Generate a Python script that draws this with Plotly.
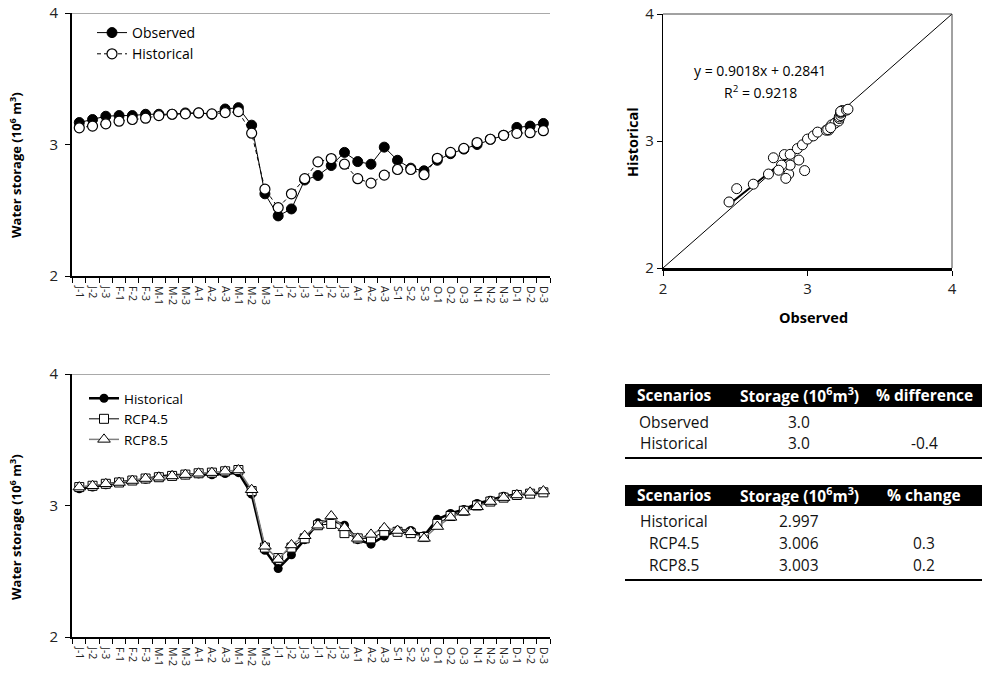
import plotly.graph_objects as go

W, H = 982, 683

# ---------------- data ----------------
periods = ["J-1", "J-2", "J-3", "F-1", "F-2", "F-3", "M-1", "M-2", "M-3",
           "A-1", "A-2", "A-3", "M-1", "M-2", "M-3", "J-1", "J-2", "J-3",
           "J-1", "J-2", "J-3", "A-1", "A-2", "A-3", "S-1", "S-2", "S-3",
           "O-1", "O-2", "O-3", "N-1", "N-2", "N-3", "D-1", "D-2", "D-3"]

observed = [3.167, 3.19, 3.215, 3.22, 3.22, 3.23, 3.23, 3.23, 3.24,
            3.24, 3.23, 3.27, 3.28, 3.147, 2.625, 2.457, 2.51, 2.73,
            2.764, 2.84, 2.94, 2.87, 2.85, 2.98, 2.88, 2.82, 2.80,
            2.88, 2.93, 2.965, 3.00, 3.04, 3.07, 3.13, 3.14, 3.16]

historical = [3.127, 3.14, 3.157, 3.177, 3.19, 3.20, 3.22, 3.23, 3.233,
              3.24, 3.233, 3.243, 3.25, 3.086, 2.66, 2.52, 2.625, 2.74,
              2.868, 2.893, 2.85, 2.74, 2.706, 2.767, 2.81, 2.81, 2.77,
              2.895, 2.94, 2.97, 3.015, 3.04, 3.07, 3.085, 3.09, 3.105]

rcp45 = [3.14, 3.15, 3.165, 3.175, 3.19, 3.205, 3.215, 3.225, 3.235,
         3.245, 3.25, 3.26, 3.27, 3.11, 2.68, 2.60, 2.68, 2.75,
         2.85, 2.86, 2.79, 2.75, 2.75, 2.80, 2.80, 2.79, 2.76,
         2.86, 2.92, 2.96, 3.00, 3.03, 3.06, 3.08, 3.09, 3.10]

rcp85 = [3.14, 3.15, 3.165, 3.175, 3.19, 3.205, 3.215, 3.225, 3.235,
         3.245, 3.25, 3.26, 3.27, 3.12, 2.69, 2.59, 2.70, 2.77,
         2.85, 2.92, 2.83, 2.75, 2.78, 2.83, 2.81, 2.80, 2.75,
         2.84, 2.91, 2.95, 2.99, 3.03, 3.06, 3.08, 3.10, 3.11]

trend_slope = 0.9018
trend_intercept = 0.2841
trend_r2 = 0.9218

t1_header = ["Scenarios", "Storage (10<sup>6</sup>m<sup>3</sup>)", "% difference"]
t1_scen = ["Observed", "Historical"]
t1_storage = [3.0, 3.0]
t1_diff = [None, -0.4]

t2_header = ["Scenarios", "Storage (10<sup>6</sup>m<sup>3</sup>)", "% change"]
t2_scen = ["Historical", "RCP4.5", "RCP8.5"]
t2_storage = [2.997, 3.006, 3.003]
t2_change = [None, 0.3, 0.2]

idx = list(range(len(periods)))

# ---------------- helpers ----------------
def px(x):
    return x / W

def py(y):
    return 1 - y / H

FONT = "Open Sans"

fig = go.Figure()

# top-left: observed vs historical
fig.add_trace(go.Scatter(
    x=idx, y=observed, name="Observed", mode="lines+markers",
    line=dict(color="black", width=1),
    marker=dict(symbol="circle", size=10, color="black", line=dict(color="black", width=1)),
    xaxis="x", yaxis="y", legend="legend"))
fig.add_trace(go.Scatter(
    x=idx, y=historical, name="Historical", mode="lines+markers",
    line=dict(color="black", width=1, dash="4px,3px"),
    marker=dict(symbol="circle", size=10, color="white", line=dict(color="black", width=1.2)),
    xaxis="x", yaxis="y", legend="legend"))

# bottom-left: scenarios
fig.add_trace(go.Scatter(
    x=idx, y=historical, name="Historical", mode="lines+markers",
    line=dict(color="black", width=2.5),
    marker=dict(symbol="circle", size=9, color="black"),
    xaxis="x2", yaxis="y2", legend="legend2"))
fig.add_trace(go.Scatter(
    x=idx, y=rcp45, name="RCP4.5", mode="lines+markers",
    line=dict(color="black", width=1),
    marker=dict(symbol="square", size=9, color="white", line=dict(color="black", width=1)),
    xaxis="x2", yaxis="y2", legend="legend2"))
fig.add_trace(go.Scatter(
    x=idx, y=rcp85, name="RCP8.5", mode="lines+markers",
    line=dict(color="#808080", width=1.5),
    marker=dict(symbol="triangle-up", size=11, color="white", line=dict(color="black", width=1)),
    xaxis="x2", yaxis="y2", legend="legend2"))

# scatter: observed vs historical
fig.add_trace(go.Scatter(
    x=[2, 4], y=[2, 4], mode="lines", line=dict(color="black", width=1),
    xaxis="x3", yaxis="y3", showlegend=False, hoverinfo="skip"))
xmin, xmax = min(observed), max(observed)
fig.add_trace(go.Scatter(
    x=[xmin, xmax], y=[trend_slope * xmin + trend_intercept, trend_slope * xmax + trend_intercept],
    mode="lines", line=dict(color="black", width=2),
    xaxis="x3", yaxis="y3", showlegend=False, hoverinfo="skip"))
fig.add_trace(go.Scatter(
    x=observed, y=historical, mode="markers",
    marker=dict(symbol="circle", size=10, color="white", line=dict(color="black", width=1)),
    xaxis="x3", yaxis="y3", showlegend=False))

# ---------------- axes ----------------
def cat_xaxis(dom, anchor):
    return dict(
        domain=dom, anchor=anchor, range=[-0.55, 35.5], automargin=False,
        tickvals=idx, ticktext=periods, tickangle=90, ticks="", ticklabelstandoff=6,
        tickfont=dict(family=FONT, size=10.5, color="#222"),
        showline=True, linecolor="black", linewidth=2, showgrid=False, zeroline=False,
        minor=dict(tickvals=[i - 0.5 for i in idx] + [35.5], ticks="outside",
                   ticklen=5, tickcolor="black", tickwidth=1, showgrid=False),
    )

def val_yaxis(dom, anchor):
    return dict(
        domain=dom, anchor=anchor, range=[2, 4], tickvals=[2, 3, 4], automargin=False,
        ticks="outside", ticklen=5, tickcolor="black", ticklabelstandoff=4,
        tickfont=dict(family=FONT, size=15, color="#222"),
        showline=True, linecolor="black", linewidth=2, showgrid=False, zeroline=False,
    )

L0, L1 = 72, 550
fig.update_layout(
    template="none",
    xaxis=cat_xaxis([px(L0), px(L1)], "y"),
    yaxis=val_yaxis([py(276), py(13)], "x"),
    xaxis2=cat_xaxis([px(L0), px(L1)], "y2"),
    yaxis2=val_yaxis([py(637), py(374)], "x2"),
    xaxis3=dict(domain=[px(663), px(952)], anchor="y3", range=[2, 4], tickvals=[2, 3, 4],
                automargin=False, ticks="outside", ticklen=5, tickcolor="black",
                tickfont=dict(family=FONT, size=15, color="#222"),
                showline=True, linecolor="black", linewidth=2.5, mirror=False,
                showgrid=False, zeroline=False),
    yaxis3=dict(domain=[py(268), py(14)], anchor="x3", range=[2, 4], tickvals=[2, 3, 4],
                automargin=False, ticks="outside", ticklen=5, tickcolor="black",
                tickfont=dict(family=FONT, size=15, color="#222"),
                showline=True, linecolor="black", linewidth=1.2,
                showgrid=False, zeroline=False),
)

shapes = []
# top border lines of the line charts
for xr, ya in [("x domain", "y"), ("x2 domain", "y2")]:
    shapes.append(dict(type="line", xref=xr, yref=ya,
                       x0=0, x1=1, y0=4, y1=4, line=dict(color="#555", width=1)))
# scatter frame top/right
shapes.append(dict(type="line", xref="x3 domain", yref="y3 domain", x0=0, x1=1, y0=1, y1=1,
                   line=dict(color="#444", width=1)))
shapes.append(dict(type="line", xref="x3 domain", yref="y3 domain", x0=1, x1=1, y0=0, y1=1,
                   line=dict(color="#444", width=1)))

annotations = []

def ann(x, y, text, size=12, color="black", angle=0):
    annotations.append(dict(x=px(x), y=py(y), xref="paper", yref="paper", text=text,
                            textangle=angle, showarrow=False, xanchor="center",
                            yanchor="middle",
                            font=dict(family=FONT, size=size, color=color)))

ytitle = "<b>Water storage (10<sup>6</sup> m<sup>3</sup>)</b>"
ann(15, 165, ytitle, 13, angle=-90)
ann(15, 527, ytitle, 13, angle=-90)
ann(633, 142, "<b>Historical</b>", 14.5, angle=-90)
ann(813, 317, "<b>Observed</b>", 14.5)
ann(760, 71, f"y = {trend_slope:.4f}x + {trend_intercept:.4f}", 14)
ann(760, 92, f"R<sup>2</sup> = {trend_r2:.4f}", 14)

# ---------------- tables ----------------
TX0, TX1 = 625, 982
col_x = [674, 799, 924]

def draw_table(header, scen, storage, extra, top, hdr_h, row_h, sfmt, efmt):
    shapes.append(dict(type="rect", xref="paper", yref="paper",
                       x0=px(TX0), x1=px(TX1), y0=py(top + hdr_h), y1=py(top),
                       fillcolor="black", line=dict(width=0)))
    for c, h in zip(col_x, header):
        ann(c, top + hdr_h / 2, f"<b>{h}</b>", 15.5, "white")
    yc = top + hdr_h + 15
    for s, v, e in zip(scen, storage, extra):
        cells = [s, sfmt.format(v), "" if e is None else efmt.format(e)]
        for c, t in zip(col_x, cells):
            if t:
                ann(c, yc, t, 15.5, "#111")
        yc += row_h
    bottom = yc - row_h + 15
    shapes.append(dict(type="line", xref="paper", yref="paper", x0=px(TX0), x1=px(TX1),
                       y0=py(bottom), y1=py(bottom), line=dict(color="black", width=2)))

draw_table(t1_header, t1_scen, t1_storage, t1_diff, 384, 23, 21, "{:.1f}", "{:.1f}")
draw_table(t2_header, t2_scen, t2_storage, t2_change, 485, 21, 22, "{:.3f}", "{:.1f}")

legend_common = dict(bgcolor="rgba(0,0,0,0)", borderwidth=0, tracegroupgap=0,
                     xanchor="left", yanchor="top", itemwidth=30)

fig.update_layout(
    width=W, height=H, margin=dict(l=0, r=0, t=0, b=0, autoexpand=False),
    paper_bgcolor="white", plot_bgcolor="white",
    shapes=shapes, annotations=annotations,
    legend=dict(x=px(92), y=py(17), font=dict(family=FONT, size=14, color="black"),
                **legend_common),
    legend2=dict(x=px(84), y=py(383), font=dict(family=FONT, size=13.5, color="black"),
                 **legend_common),
    font=dict(family=FONT),
)

fig.write_html("out.html", config={"displayModeBar": False},
               post_script="document.body.style.margin='0px';")
